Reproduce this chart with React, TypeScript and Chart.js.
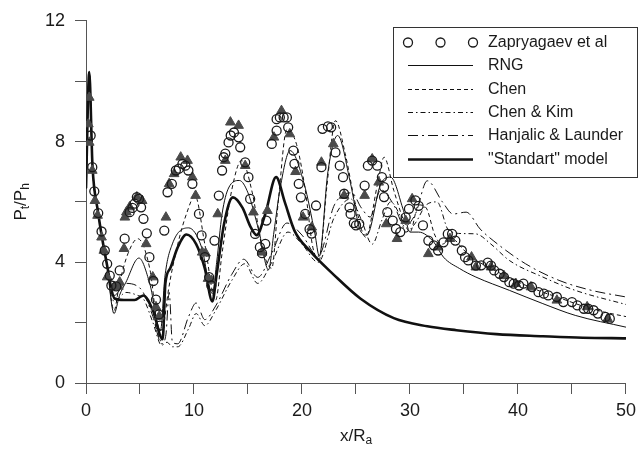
import React, { useEffect, useRef } from "react";
import { Chart, registerables } from "chart.js";
Chart.register(...registerables);

const FONT = '"Liberation Sans", Arial, Helvetica, sans-serif';

// ---- axis settings ----
const xMin = 0, xMax = 50, xStep = 5, xLabelEvery = 10;
const yMin = 0, yMax = 12, yStep = 2, yLabelEvery = 4;

// ---- legend texts ----
const legendTexts = [
  "Zapryagaev et al",
  "RNG",
  "Chen",
  "Chen & Kim",
  "Hanjalic & Launder",
  '"Standart" model',
];

// ---- experimental data: circles (Zapryagaev et al) ----
const zapryagaevPoints = [
  [0.43, 8.2], [0.58, 7.15], [0.77, 6.35], [1.13, 5.63], [1.44, 5.02], [1.74, 4.39], [1.96, 3.95],
  [2.2, 3.56], [2.35, 3.23], [2.8, 3.2], [3.12, 3.73], [3.58, 4.78], [4.04, 5.66], [4.3, 5.8],
  [4.5, 5.94], [4.71, 6.16], [4.9, 6.1], [5.1, 5.82], [5.32, 5.44], [5.63, 4.96], [5.87, 4.17],
  [6.24, 3.38], [6.48, 2.76], [6.73, 2.27], [6.85, 1.9], [7.25, 5.05], [7.55, 6.32], [7.95, 6.6],
  [8.32, 7.04], [8.6, 7.1], [8.93, 7.26], [9.2, 7.2], [9.48, 7.04], [9.85, 6.6], [10.46, 5.6],
  [10.7, 4.89], [11.0, 4.17], [11.4, 3.51], [11.6, 3.23], [11.9, 4.72], [12.3, 6.21], [12.6, 7.04],
  [12.75, 7.48], [12.9, 7.6], [13.2, 7.97], [13.4, 8.2], [13.7, 8.3], [14.13, 8.14], [14.28, 7.81],
  [14.74, 7.31], [15.04, 6.82], [15.2, 6.1], [15.66, 4.94], [16.1, 4.5], [16.3, 4.3], [16.6, 4.61],
  [16.7, 5.38], [17.2, 7.92], [17.65, 8.36], [17.65, 8.74], [17.95, 8.8], [18.3, 8.8], [18.6, 8.8],
  [18.72, 8.47], [19.2, 7.7], [19.3, 7.26], [19.7, 6.6], [19.9, 6.15], [20.3, 5.6], [20.7, 5.1],
  [20.9, 4.95], [21.3, 5.88], [21.8, 7.15], [21.9, 8.42], [22.4, 8.5], [22.7, 8.47], [23.1, 7.64],
  [23.5, 7.2], [23.8, 6.82], [23.9, 6.27], [24.4, 5.82], [24.5, 5.6], [24.8, 5.3], [25.0, 5.22],
  [25.3, 5.27], [25.8, 6.54], [26.1, 7.2], [26.5, 7.37], [26.97, 7.2], [27.4, 6.82], [27.6, 6.49],
  [27.6, 6.16], [27.9, 5.66], [28.4, 5.38], [28.7, 5.11], [29.1, 5.0], [29.6, 5.49], [29.9, 5.77],
  [30.5, 6.05], [30.8, 5.87], [31.2, 5.22], [31.7, 4.72], [32.2, 4.56], [32.6, 4.39], [33.1, 4.66],
  [33.5, 4.94], [33.9, 4.94], [34.2, 4.72], [34.8, 4.39], [35.1, 4.17], [35.4, 4.06], [36.1, 3.89],
  [36.6, 3.9], [37.2, 3.99], [37.5, 3.89], [37.8, 3.73], [38.3, 3.62], [38.7, 3.51], [39.2, 3.34],
  [39.6, 3.29], [40.1, 3.23], [40.5, 3.29], [41.3, 3.18], [41.9, 3.01], [42.4, 2.96], [42.8, 2.9],
  [43.6, 2.85], [44.2, 2.68], [45.0, 2.68], [45.5, 2.57], [46.1, 2.46], [46.5, 2.46], [47.0, 2.41],
  [47.4, 2.3], [48.1, 2.19], [48.5, 2.13],
];

// ---- experimental data: filled triangles (second data set, not in legend) ----
const trianglePoints = [
  [0.22, 8.58], [0.3, 9.46], [0.3, 7.97], [0.58, 7.04], [0.83, 6.04], [1.07, 5.55], [1.44, 4.83],
  [1.65, 4.39], [1.96, 3.51], [2.66, 3.18], [3.0, 3.2], [3.12, 3.34], [3.52, 4.45], [3.6, 5.49],
  [3.74, 5.66], [4.04, 5.83], [4.71, 6.16], [5.2, 6.04], [5.57, 4.61], [6.18, 3.51], [6.48, 2.52],
  [6.78, 2.21], [7.4, 5.49], [7.7, 6.6], [8.16, 6.93], [8.77, 7.48], [9.4, 7.37], [9.85, 6.82],
  [10.15, 6.21], [10.76, 4.33], [11.07, 4.3], [11.3, 3.46], [11.6, 3.4], [12.2, 5.6], [12.9, 7.37],
  [13.37, 8.64], [14.13, 8.53], [14.74, 7.2], [15.5, 5.66], [16.3, 4.33], [16.8, 5.71], [17.4, 8.14],
  [18.1, 9.02], [18.87, 8.25], [19.4, 7.0], [20.1, 5.49], [20.9, 5.16], [21.8, 7.31], [22.9, 7.92],
  [23.9, 6.21], [25.8, 6.21], [26.5, 7.42], [27.1, 6.65], [27.8, 5.27], [28.8, 4.78], [29.6, 5.38],
  [30.2, 6.1], [31.7, 4.28], [32.6, 4.5], [33.7, 4.78], [35.7, 4.17], [36.1, 3.84], [37.5, 3.84],
  [38.7, 3.55], [39.8, 3.29], [41.2, 3.18], [43.6, 2.74], [46.4, 2.52], [48.3, 2.13],
];

// ---- model curves ----
const rngPoints = [
  [0, 6.45], [0.3, 10.3], [0.6, 7.2], [1.1, 5.7], [1.9, 4.0], [2.6, 2.3], [3.1, 2.9], [3.7, 3.34],
  [4.9, 4.14], [5.9, 3.3], [6.9, 1.74], [7.3, 3.5], [8.0, 4.61], [9.5, 5.14], [10.7, 4.5], [11.7, 2.96],
  [12.1, 4.0], [12.6, 5.6], [13.2, 6.46], [14.2, 6.71], [15.0, 6.3], [16.0, 5.05], [16.9, 3.75],
  [17.4, 5.0], [18.0, 6.5], [18.9, 7.7], [20.2, 6.6], [21.2, 4.94], [21.6, 4.2], [22.4, 7.0],
  [23.3, 8.2], [24.5, 6.6], [25.4, 5.05], [26.0, 4.9], [27.3, 6.6], [28.2, 6.82], [29.4, 5.71],
  [30.0, 5.0], [30.8, 5.0], [32.2, 4.67], [33.1, 4.17], [34.6, 3.79], [36.1, 3.51], [39.2, 3.07],
  [42.3, 2.63], [45.3, 2.24], [50.0, 1.85],
];

const chenPoints = [
  [0, 6.45], [0.3, 10.3], [0.6, 7.2], [1.1, 5.7], [1.9, 4.0], [2.6, 2.4], [3.1, 3.3], [3.9, 4.3],
  [4.8, 4.78], [5.9, 3.8], [6.9, 1.4], [7.2, 1.9], [7.6, 3.0], [8.5, 4.6], [9.3, 5.6], [10.1, 6.2],
  [11.0, 4.6], [12.0, 2.74], [12.6, 4.3], [13.5, 6.4], [14.4, 7.37], [15.4, 6.3], [16.3, 4.5],
  [17.2, 3.8], [17.8, 6.0], [18.6, 8.4], [19.5, 7.9], [20.3, 6.4], [21.0, 4.5], [21.6, 4.1],
  [22.3, 6.5], [23.1, 8.69], [24.0, 7.6], [24.9, 6.0], [25.9, 4.83], [27.0, 6.6], [27.6, 7.48],
  [28.5, 6.38], [29.4, 5.4], [30.0, 5.0], [30.8, 5.9], [31.5, 5.8], [32.3, 4.9], [33.0, 4.6],
  [33.8, 4.8], [35.0, 4.4], [36.0, 4.1], [38.0, 3.7], [40.0, 3.35], [42.0, 3.05], [44.0, 2.8],
  [46.0, 2.55], [48.0, 2.35], [50.0, 2.2],
];

const chenKimPoints = [
  [0, 6.45], [0.3, 10.3], [0.6, 7.2], [1.1, 5.7], [1.9, 4.0], [2.6, 2.7], [3.7, 3.0], [4.8, 2.9],
  [5.3, 2.8], [6.2, 2.0], [7.0, 1.25], [7.5, 1.35], [8.0, 1.2], [8.5, 1.2], [9.5, 1.8], [10.2, 2.3],
  [11.0, 1.9], [12.0, 2.4], [13.5, 3.4], [14.7, 3.95], [15.9, 3.3], [17.2, 4.0], [18.7, 5.0],
  [20.0, 4.6], [21.5, 4.0], [23.0, 5.5], [24.5, 6.1], [25.5, 5.4], [26.5, 4.6], [27.4, 5.4],
  [28.2, 6.0], [29.0, 5.6], [29.6, 5.0], [30.5, 5.3], [31.5, 5.9], [32.5, 6.0], [33.6, 5.05],
  [35.0, 4.95], [36.1, 4.94], [37.5, 4.6], [39.2, 4.06], [42.3, 3.51], [45.3, 3.07], [50.0, 2.6],
];

const hanjalicPoints = [
  [0, 6.45], [0.3, 10.3], [0.6, 7.2], [1.1, 5.7], [1.9, 4.0], [2.6, 2.9], [3.7, 3.3], [4.8, 3.2],
  [5.3, 3.0], [6.2, 2.2], [7.0, 1.3], [7.4, 1.6], [7.7, 3.0], [8.0, 1.35], [8.5, 1.3], [9.5, 2.2],
  [10.2, 2.65], [11.0, 2.1], [12.0, 2.55], [13.5, 3.6], [14.6, 4.1], [15.9, 3.5], [17.2, 4.3],
  [18.6, 5.3], [20.0, 4.9], [21.5, 4.2], [23.0, 5.9], [24.6, 6.3], [25.5, 5.8], [26.3, 5.5],
  [27.3, 6.4], [28.5, 5.9], [29.5, 5.2], [30.5, 5.6], [31.6, 6.7], [33.0, 6.0], [34.0, 5.6],
  [35.2, 5.66], [36.5, 5.1], [37.7, 4.72], [40.7, 3.95], [43.8, 3.4], [46.8, 3.07], [50.0, 2.85],
];

const standartPoints = [
  [0, 6.45], [0.3, 10.3], [0.6, 7.2], [1.1, 5.7], [1.9, 4.0], [2.65, 2.8], [3.5, 2.75], [4.5, 2.75],
  [5.3, 2.9], [6.2, 2.4], [7.1, 1.45], [7.35, 3.3], [7.8, 3.8], [8.5, 4.5], [9.3, 4.92], [10.2, 4.6],
  [11.0, 3.8], [11.7, 2.7], [12.1, 3.6], [12.8, 5.3], [13.6, 6.15], [14.5, 5.8], [15.2, 5.2],
  [15.8, 4.9], [16.6, 5.6], [17.6, 6.82], [18.4, 6.0], [19.3, 5.05], [20.8, 4.35], [22.9, 3.6],
  [25.4, 2.8], [28.5, 2.15], [31.6, 1.88], [34.3, 1.75], [38.0, 1.62], [42.3, 1.55], [46.0, 1.5],
  [50.0, 1.48],
];

const toXY = (pairs: number[][]) => pairs.map(([x, y]) => ({ x, y }));

function drawRich(ctx: CanvasRenderingContext2D, parts: [string, boolean][], cx: number, cy: number, size: number) {
  const subSize = Math.round(size * 0.72);
  let total = 0;
  const widths: number[] = [];
  for (const [t, sub] of parts) {
    ctx.font = `${sub ? subSize : size}px ${FONT}`;
    const w = ctx.measureText(t).width;
    widths.push(w);
    total += w;
  }
  let x = cx - total / 2;
  ctx.textAlign = "left";
  ctx.textBaseline = "middle";
  parts.forEach(([t, sub], i) => {
    ctx.font = `${sub ? subSize : size}px ${FONT}`;
    ctx.fillText(t, x, sub ? cy + 5 : cy);
    x += widths[i];
  });
}

const titlesPlugin = {
  id: "axisTitles",
  afterDraw(chart: any) {
    const { ctx, chartArea } = chart;
    ctx.save();
    ctx.fillStyle = "#1a1a1a";
    const cx = (chartArea.left + chartArea.right) / 2;
    drawRich(ctx, [["x/R", false], ["a", true]], cx, chart.height - 13, 17);
    ctx.translate(21, (chartArea.top + chartArea.bottom) / 2);
    ctx.rotate(-Math.PI / 2);
    drawRich(ctx, [["P", false], ["t", true], ["/P", false], ["h", true]], 0, 0, 17);
    ctx.restore();
  },
};

const legendPlugin = {
  id: "boxLegend",
  afterDraw(chart: any) {
    const ctx: CanvasRenderingContext2D = chart.ctx;
    const left = 393, top = 27, w = 244, h = 150;
    ctx.save();
    ctx.fillStyle = "#ffffff";
    ctx.fillRect(left, top, w, h);
    ctx.strokeStyle = "#333";
    ctx.lineWidth = 1;
    ctx.setLineDash([]);
    ctx.strokeRect(left + 0.5, top + 0.5, w, h);
    const items = chart.data.datasets.filter((d: any) => d.legendText);
    items.forEach((d: any, i: number) => {
      const cy = Math.round(top + 15 + i * 23.3) + 0.5;
      const x0 = 408, x1 = 473;
      if (d.showLine === false) {
        ctx.strokeStyle = d.borderColor;
        ctx.lineWidth = d.borderWidth;
        [x0, (x0 + x1) / 2, x1].forEach((px) => {
          ctx.beginPath();
          ctx.arc(px, cy, d.pointRadius, 0, Math.PI * 2);
          ctx.stroke();
        });
      } else {
        ctx.strokeStyle = d.borderColor;
        ctx.lineWidth = d.borderWidth;
        ctx.setLineDash(d.borderDash || []);
        ctx.beginPath();
        ctx.moveTo(x0, cy);
        ctx.lineTo(x1, cy);
        ctx.stroke();
        ctx.setLineDash([]);
      }
      ctx.fillStyle = "#1a1a1a";
      ctx.font = `16px ${FONT}`;
      ctx.textAlign = "left";
      ctx.textBaseline = "middle";
      ctx.fillText(d.legendText, 488, cy);
    });
    ctx.restore();
  },
};

export default function App() {
  const canvasRef = useRef<HTMLCanvasElement | null>(null);

  useEffect(() => {
    const canvas = canvasRef.current;
    if (!canvas) return;
    const lineBase = {
      showLine: true,
      pointRadius: 0,
      borderColor: "#111",
      backgroundColor: "#111",
      fill: false,
      cubicInterpolationMode: "monotone",
    };
    const chart = new Chart(canvas, {
      type: "line",
      data: {
        datasets: [
          {
            label: legendTexts[0], legendText: legendTexts[0],
            data: toXY(zapryagaevPoints), showLine: false, pointStyle: "circle",
            pointRadius: 4.5, borderColor: "#1a1a1a", backgroundColor: "rgba(0,0,0,0)",
            borderWidth: 1.3, order: 0,
          },
          {
            label: "triangles",
            data: toXY(trianglePoints), showLine: false, pointStyle: "triangle",
            pointRadius: 5.6, borderColor: "#4a4a4a", backgroundColor: "#4a4a4a",
            borderWidth: 1, order: 1,
          },
          { ...lineBase, label: legendTexts[1], legendText: legendTexts[1], data: toXY(rngPoints), borderWidth: 1, borderDash: [], order: 3 },
          { ...lineBase, label: legendTexts[2], legendText: legendTexts[2], data: toXY(chenPoints), borderWidth: 1, borderDash: [4, 3], order: 4 },
          { ...lineBase, label: legendTexts[3], legendText: legendTexts[3], data: toXY(chenKimPoints), borderWidth: 1, borderDash: [5, 3, 1.5, 3], order: 5 },
          { ...lineBase, label: legendTexts[4], legendText: legendTexts[4], data: toXY(hanjalicPoints), borderWidth: 1, borderDash: [10, 4, 2, 4], order: 6 },
          { ...lineBase, label: legendTexts[5], legendText: legendTexts[5], data: toXY(standartPoints), borderWidth: 2.6, borderDash: [], order: 2 },
        ] as any,
      },
      options: {
        animation: false,
        responsive: false,
        devicePixelRatio: 1,
        events: [],
        layout: { padding: { left: 0, right: 11, top: 20, bottom: 0 } },
        plugins: { legend: { display: false }, tooltip: { enabled: false } },
        scales: {
          x: {
            type: "linear", min: xMin, max: xMax,
            afterFit: (s: any) => { s.height = 66; },
            grid: { drawOnChartArea: false, drawTicks: true, tickLength: 11, color: "#555", tickColor: "#555" },
            border: { display: true, color: "#555", width: 1 },
            ticks: {
              stepSize: xStep, autoSkip: false, maxRotation: 0, padding: 6,
              color: "#1a1a1a", font: { family: FONT, size: 18 },
              callback: (v: any) => (Number(v) % xLabelEvery === 0 ? String(v) : ""),
            },
          },
          y: {
            type: "linear", min: yMin, max: yMax,
            afterFit: (s: any) => { s.width = 86; },
            grid: { drawOnChartArea: false, drawTicks: true, tickLength: 11, color: "#555", tickColor: "#555" },
            border: { display: true, color: "#555", width: 1 },
            ticks: {
              stepSize: yStep, autoSkip: false, padding: 10,
              color: "#1a1a1a", font: { family: FONT, size: 18 },
              callback: (v: any) => (Number(v) % yLabelEvery === 0 ? String(v) : ""),
            },
          },
        },
      } as any,
      plugins: [titlesPlugin, legendPlugin],
    });
    return () => chart.destroy();
  }, []);

  return (
    <div style={{ position: "fixed", left: 0, top: 0, width: 642, height: 449, background: "#fff" }}>
      <canvas ref={canvasRef} width={642} height={449} style={{ display: "block", width: 642, height: 449 }} />
    </div>
  );
}
